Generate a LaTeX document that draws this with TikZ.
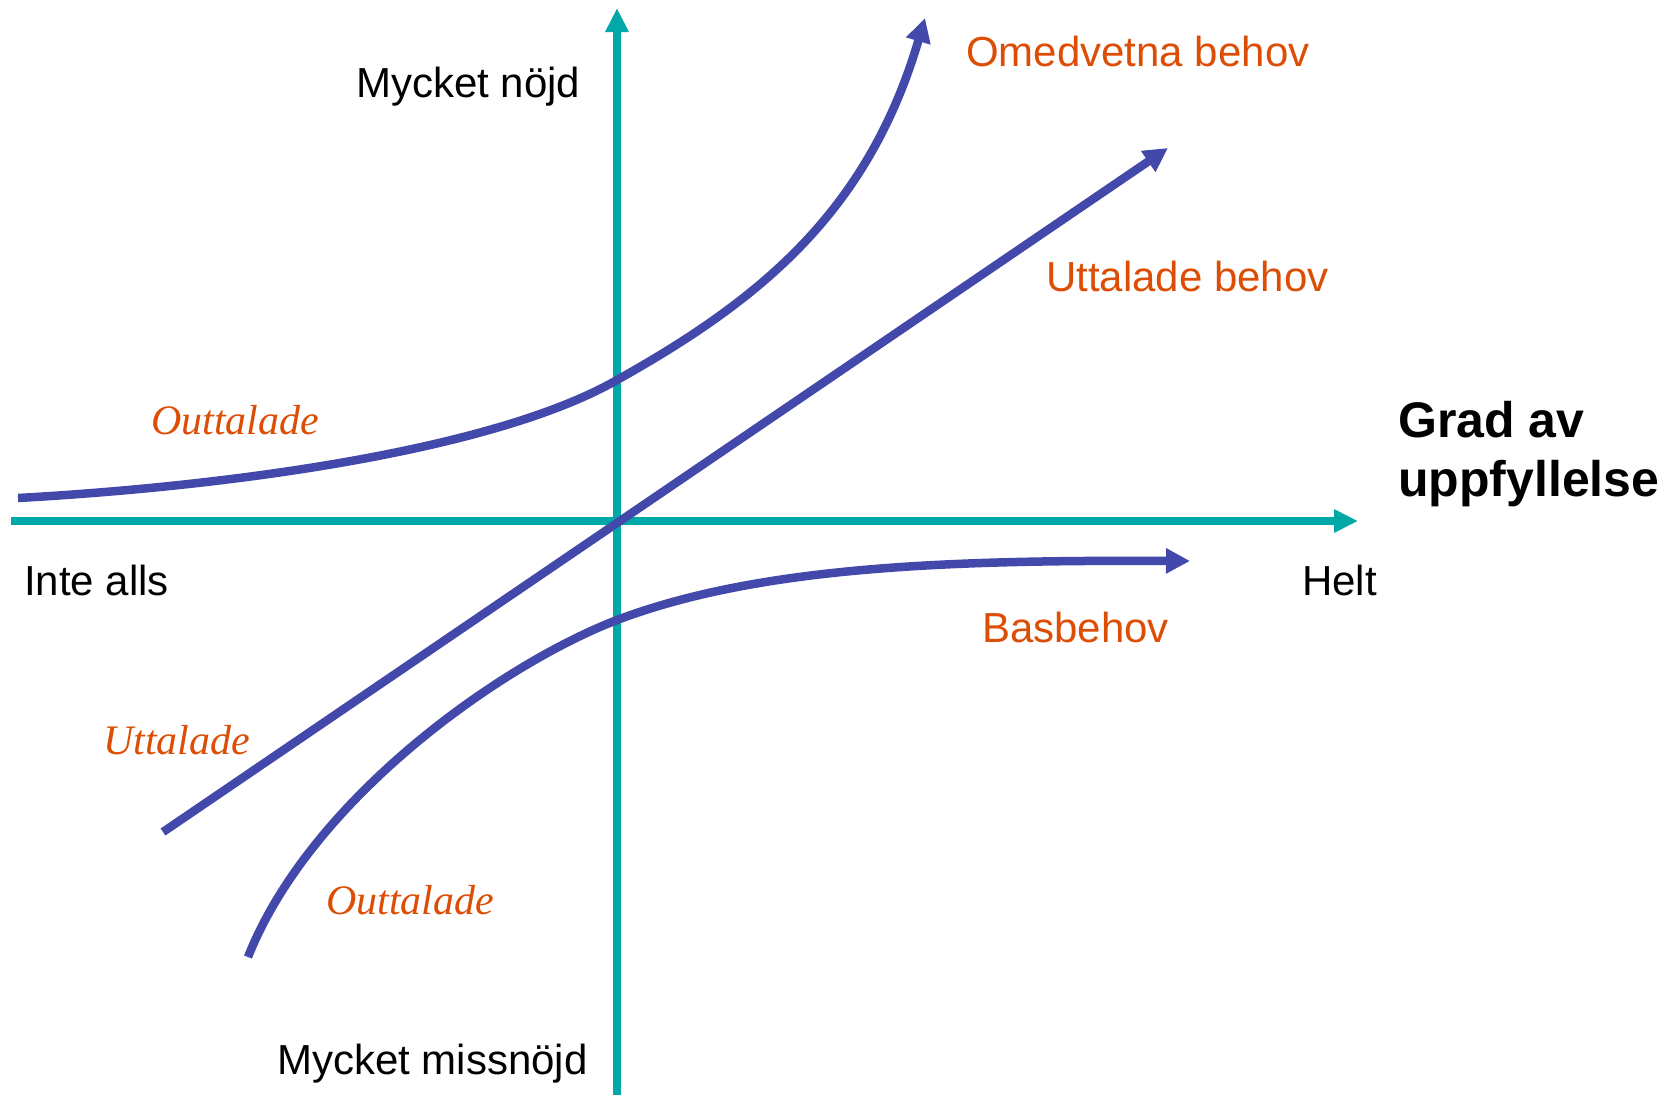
\documentclass[tikz,border=0pt]{standalone}
\usepackage{fontspec}
\setmainfont{Liberation Sans}
\newfontfamily\timesfont{Liberation Serif}
\usetikzlibrary{arrows.meta}
\definecolor{axisc}{RGB}{0,168,168}
\definecolor{curvec}{RGB}{67,73,170}
\definecolor{labc}{RGB}{220,78,6}
\tikzset{
  axisline/.style={draw=axisc, line width=7.5pt, -{Triangle[length=24pt,width=22pt]}},
  curveline/.style={draw=curvec, line width=8.5pt},
  curvearrow/.style={curveline, -{Triangle[length=24pt,width=24pt]}},
  lbl/.style={anchor=base west, inner sep=0pt, font=\fontsize{42}{50}\selectfont},
  olbl/.style={lbl, text=labc},
  ilbl/.style={anchor=base west, inner sep=0pt, text=labc, font=\timesfont\itshape\fontsize{42}{50}\selectfont},
  blbl/.style={anchor=base west, inner sep=0pt, font=\bfseries\fontsize{50}{59}\selectfont},
}
\begin{document}
\begin{tikzpicture}[x=1pt,y=-1pt]
\useasboundingbox (0,0) rectangle (1677,1095);
% axes
\coordinate (xs) at (11,521);
\coordinate (xe) at (1358,521);
\coordinate (ys) at (617,1095);
\coordinate (ye) at (617,8);
\draw[axisline] (xs) -- (xe);
\draw[axisline] (ys) -- (ye);
% top curve (Omedvetna behov)
\coordinate (t0) at (18,498);
\coordinate (t1) at (617,380);
\coordinate (t2) at (925,18);
\draw[curvearrow] (t0) .. controls (250,485) and (500,447) .. (t1)
  .. controls (760,300) and (868,212) .. (t2);
% middle line (Uttalade behov)
\coordinate (m0) at (163,832);
\coordinate (m1) at (1168,148);
\draw[curvearrow] (m0) -- (m1);
% bottom curve (Basbehov)
\coordinate (b0) at (248,957);
\coordinate (b1) at (617,620);
\coordinate (b2) at (1190,561);
\draw[curvearrow] (b0) .. controls (310,800) and (500,665) .. (b1)
  .. controls (760,566) and (950,560) .. (b2);
% labels
\node[lbl] (ln) at (356,97) {Mycket nöjd};
\node[lbl] (lm) at (277,1074) {Mycket missnöjd};
\node[lbl] (li) at (24,595) {Inte alls};
\node[lbl] (lh) at (1302,595) {Helt};
\node[olbl] (lo) at (966,66) {Omedvetna behov};
\node[olbl] (lu) at (1046,291) {Uttalade behov};
\node[olbl] (lb) at (982,642) {Basbehov};
\node[ilbl] (io1) at (151,434) {Outtalade};
\node[ilbl] (iu) at (103,754) {Uttalade};
\node[ilbl] (io2) at (326,914) {Outtalade};
\node[blbl] (lg1) at (1398,437) {Grad av};
\node[blbl] (lg2) at (1398,496) {uppfyllelse};
\end{tikzpicture}
\end{document}
